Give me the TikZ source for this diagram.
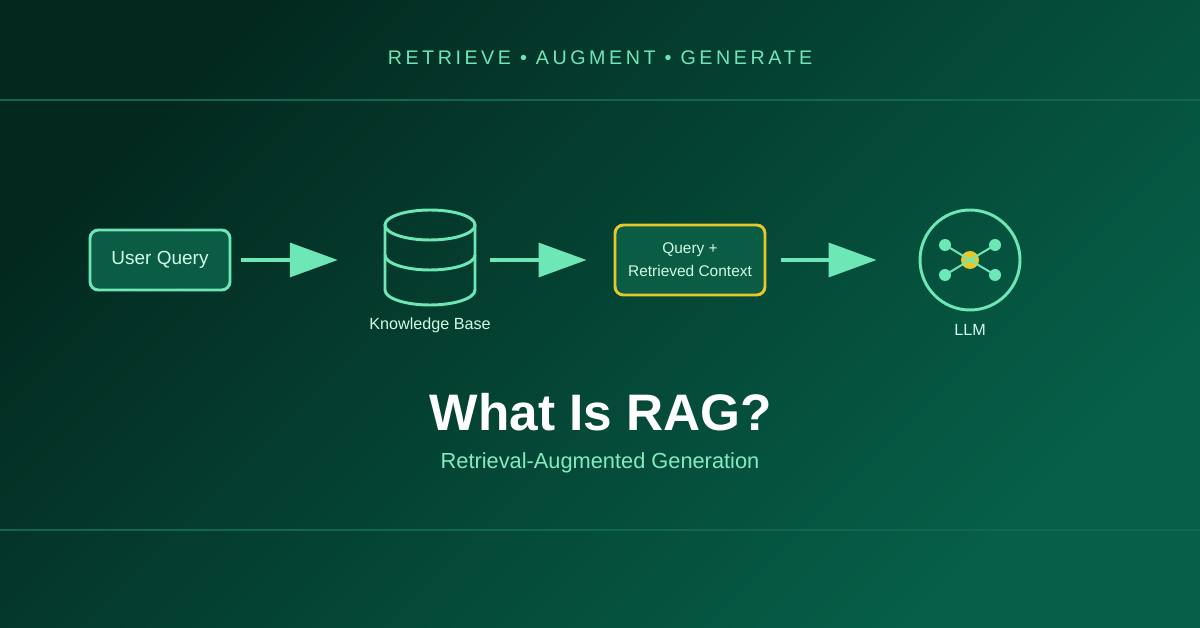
\documentclass[tikz,border=0pt]{standalone}
\usepackage{fontspec}
\setmainfont{Liberation Sans}
\usetikzlibrary{arrows.meta,calc}
\definecolor{mint}{HTML}{6EE7B7}
\definecolor{pale}{HTML}{D1FAE5}
\definecolor{boxfill}{HTML}{0A5C44}
\definecolor{gold}{HTML}{E8C72A}
\definecolor{bgdark}{HTML}{03291F}
\definecolor{bglight}{HTML}{066049}
\definecolor{rule}{HTML}{13664E}
\tikzset{
  stage/.style={draw=mint, line width=2.1pt, fill=boxfill, rounded corners=6pt,
    text=pale, align=center},
  flow/.style={draw=mint, line width=2.8pt, -{Triangle[width=24pt,length=34pt]}},
  caption/.style={text=pale, font=\fontsize{11.5}{13}\selectfont}
}
\begin{document}
\begin{tikzpicture}[x=0.025cm, y=-0.025cm]
	% background
	\shade[shading=axis, top color=bgdark, bottom color=bglight, shading angle=45]
		(0,0) rectangle (1200,628);
	\useasboundingbox (0,0) rectangle (1200,628);
	\draw [rule, line width=1pt] (0,100) -- (1200,100);
	\draw [rule, line width=1pt] (0,530) -- (1200,530);
	\node (tag) [text=mint, font=\fontsize{14}{16}\selectfont\addfontfeature{LetterSpace=18}] at (600,58)
		{RETRIEVE • AUGMENT • GENERATE};

	% stages
	\node (query) [stage, minimum width=140*0.025cm, minimum height=60*0.025cm,
		font=\fontsize{13.5}{16}\selectfont] at (160,260) {\raisebox{-2pt}{User Query}};
	\node (kb) [minimum width=100*0.025cm, minimum height=100*0.025cm] at (430,260) {};
	\draw [mint, line width=2.1pt] (385,225) -- (385,290) arc[start angle=180, end angle=0, x radius=45, y radius=15]
		-- (475,225);
	\draw [mint, line width=2.1pt] (430,225) ellipse[x radius=45, y radius=15];
	\draw [mint, line width=2.1pt] (385,255) arc[start angle=180, end angle=0, x radius=45, y radius=15];
	\node (kblabel) [caption] at (430,325) {Knowledge Base};
	\node (ctx) [stage, draw=gold, minimum width=150*0.025cm, minimum height=70*0.025cm,
		font=\fontsize{11}{16.5}\selectfont] at (690,260) {Query +\\Retrieved Context};
	\node (llm) [circle, draw=mint, line width=2.1pt, minimum size=100*0.025cm] at (970,260) {};
	\node (llmlabel) [caption] at (970,330) {LLM};

	% network glyph
	\fill [gold] (llm.center) circle[radius=9];
	\foreach \dx/\dy [count=\i] in {-25/-15, 25/-15, -25/15, 25/15} {
		\coordinate (n\i) at ($(970,260)+(\dx,\dy)$);
		\draw [mint, line width=1.4pt] (llm.center) -- (n\i);
		\fill [mint] (n\i) circle[radius=6];
	}

	% connectors
	\draw [flow] ($(query.east)+(10,0)$) -- ($(kb.west)+(-42,0)$);
	\draw [flow] ($(kb.east)+(10,0)$) -- ($(ctx.west)+(-27,0)$);
	\draw [flow] ($(ctx.east)+(15,0)$) -- ($(llm.west)+(-42,0)$);

	% title
	\node (title) [text=white, font=\bfseries\fontsize{36.5}{44}\selectfont] at (601,412) {What Is RAG?};
	\node (subtitle) [text=mint!80!pale, font=\fontsize{15.5}{18}\selectfont] at (600,463)
		{Retrieval-Augmented Generation};
\end{tikzpicture}
\end{document}
